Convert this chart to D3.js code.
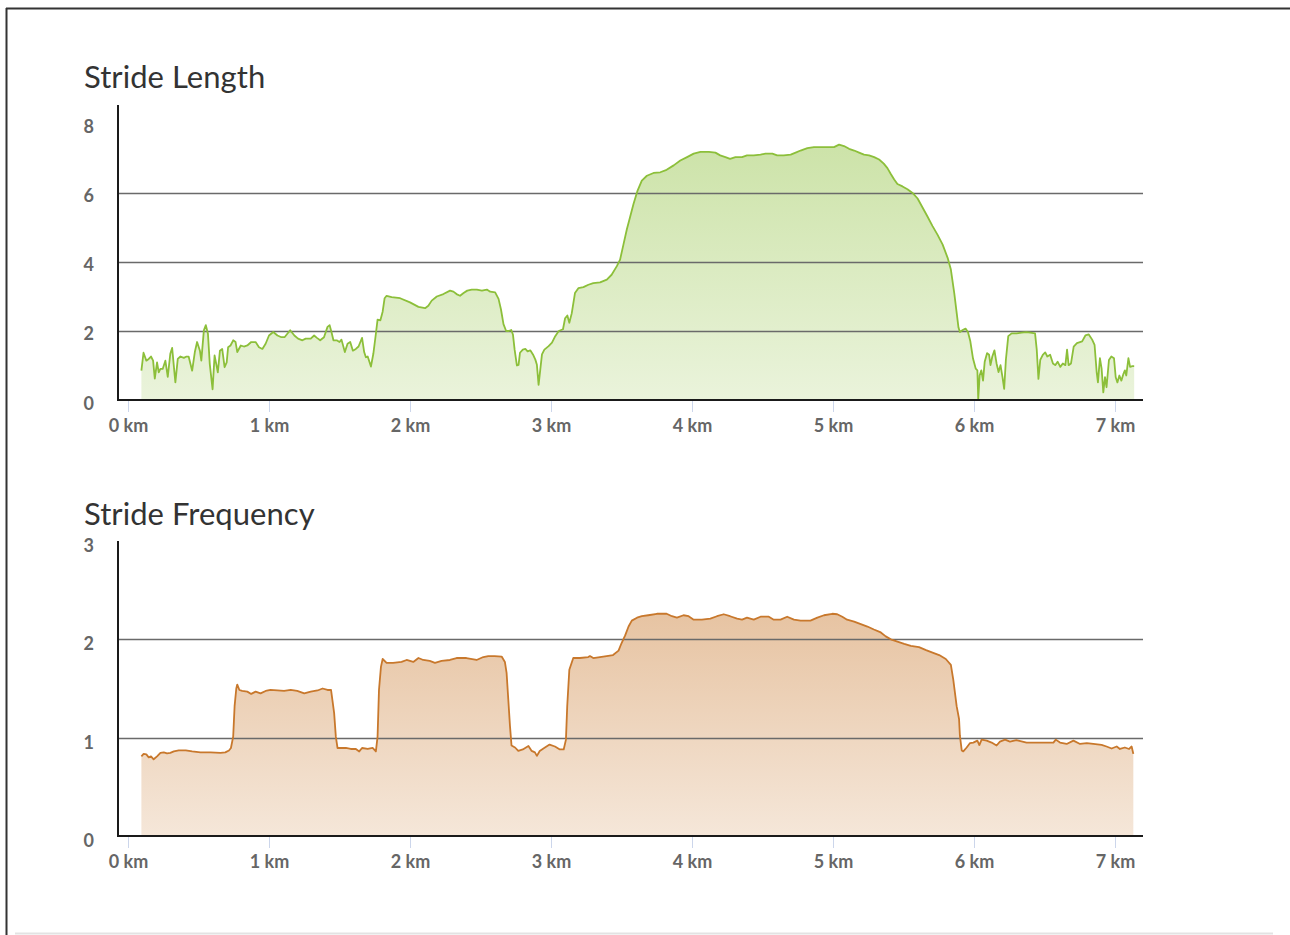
<!DOCTYPE html>
<html>
<head>
<meta charset="utf-8">
<script src="https://cdn.jsdelivr.net/npm/d3@7"></script>
<style>
  html, body { margin: 0; padding: 0; background: #fff; }
  svg { display: block; font-family: Lato, "Open Sans", sans-serif; }
</style>
</head>
<body>
<svg id="chart" width="1290" height="935"></svg>
<script>
// ---------- DATA ----------
const xTickKm = [0, 1, 2, 3, 4, 5, 6, 7];
const lengthTicks = [0, 2, 4, 6, 8];
const lengthGrid = [2, 4, 6];
const freqTicks = [0, 1, 2, 3];
const freqGrid = [1, 2];

const lengthKm = [0.095,0.11,0.13,0.147,0.163,0.178,0.19,0.206,0.218,0.23,0.246,0.265,0.282,0.30,0.313,0.336,0.353,0.372,0.396,0.415,0.43,0.455,0.474,0.49,0.51,0.52,0.538,0.552,0.567,0.58,0.60,0.614,0.626,0.637,0.652,0.668,0.685,0.70,0.71,0.727,0.746,0.763,0.775,0.80,0.822,0.846,0.874,0.905,0.929,0.953,0.976,1.0,1.03,1.06,1.088,1.11,1.15,1.18,1.206,1.237,1.26,1.296,1.32,1.34,1.363,1.39,1.415,1.43,1.443,1.457,1.48,1.50,1.514,1.538,1.557,1.576,1.595,1.616,1.635,1.66,1.675,1.687,1.70,1.723,1.74,1.758,1.77,1.79,1.806,1.82,1.834,1.87,1.93,2.0,2.06,2.107,2.13,2.154,2.19,2.237,2.284,2.308,2.33,2.355,2.38,2.406,2.438,2.474,2.51,2.545,2.569,2.604,2.628,2.645,2.663,2.682,2.70,2.718,2.73,2.742,2.758,2.77,2.78,2.80,2.818,2.834,2.853,2.872,2.889,2.90,2.912,2.924,2.936,2.953,2.983,3.007,3.03,3.055,3.085,3.10,3.116,3.13,3.147,3.17,3.194,3.23,3.265,3.30,3.348,3.396,3.43,3.467,3.49,3.514,3.538,3.56,3.585,3.614,3.644,3.68,3.727,3.775,3.82,3.87,3.917,3.965,4.012,4.06,4.12,4.166,4.20,4.237,4.27,4.308,4.355,4.39,4.438,4.486,4.52,4.57,4.604,4.65,4.70,4.735,4.77,4.818,4.865,4.912,4.96,5.007,5.043,5.078,5.114,5.15,5.185,5.22,5.256,5.292,5.327,5.36,5.386,5.41,5.434,5.457,5.493,5.528,5.564,5.60,5.635,5.67,5.706,5.74,5.777,5.813,5.836,5.86,5.875,5.89,5.90,5.92,5.94,5.957,5.974,5.993,6.012,6.024,6.03,6.04,6.052,6.064,6.076,6.093,6.107,6.117,6.13,6.145,6.16,6.174,6.188,6.202,6.214,6.226,6.243,6.267,6.302,6.338,6.37,6.40,6.433,6.445,6.457,6.47,6.488,6.505,6.52,6.54,6.56,6.576,6.593,6.612,6.63,6.648,6.66,6.671,6.688,6.707,6.73,6.767,6.79,6.814,6.838,6.855,6.87,6.879,6.893,6.905,6.917,6.929,6.94,6.957,6.974,6.993,7.005,7.017,7.031,7.045,7.06,7.07,7.08,7.095,7.107,7.124,7.136];
const lengthVal = [0.85,1.37,1.14,1.19,1.26,1.14,0.62,1.09,0.80,0.90,0.90,1.14,0.67,1.34,1.51,0.51,1.19,1.26,1.22,1.26,1.26,0.85,1.39,1.68,1.43,1.14,2.02,2.17,1.92,1.04,0.31,1.29,1.04,0.80,1.43,1.48,0.95,1.09,1.53,1.58,1.73,1.68,1.39,1.58,1.55,1.58,1.68,1.68,1.53,1.48,1.63,1.87,1.97,1.87,1.82,1.82,2.02,1.87,1.78,1.73,1.78,1.78,1.87,1.80,1.73,1.82,2.12,2.17,1.97,1.73,1.73,1.68,1.75,1.39,1.63,1.68,1.43,1.48,1.55,1.80,1.39,1.24,1.26,0.97,1.34,1.92,2.33,2.31,2.56,2.95,3.02,2.98,2.95,2.83,2.70,2.66,2.73,2.88,3.0,3.07,3.17,3.14,3.07,3.02,3.10,3.17,3.20,3.20,3.17,3.20,3.14,3.12,2.93,2.63,2.20,2.0,2.0,2.03,1.9,1.46,1.0,1.02,1.37,1.46,1.48,1.41,1.44,1.32,1.17,1.02,0.44,0.88,1.32,1.46,1.56,1.66,1.85,2.0,2.05,2.37,2.45,2.24,2.51,3.10,3.24,3.27,3.34,3.39,3.41,3.49,3.63,3.88,4.07,4.51,4.95,5.29,5.68,6.07,6.36,6.50,6.58,6.60,6.67,6.80,6.94,7.04,7.14,7.19,7.19,7.17,7.09,7.04,6.99,7.04,7.04,7.09,7.09,7.11,7.14,7.14,7.09,7.09,7.11,7.17,7.23,7.30,7.33,7.33,7.33,7.33,7.40,7.36,7.28,7.23,7.17,7.11,7.09,7.04,6.97,6.85,6.72,6.55,6.39,6.26,6.19,6.11,6.0,5.84,5.58,5.32,5.04,4.80,4.51,4.12,3.78,3.10,2.60,2.10,1.97,2.03,2.07,1.97,1.70,1.20,0.91,0.86,0.02,0.71,0.86,0.56,1.11,1.36,1.31,1.01,1.26,1.44,1.06,0.81,1.01,0.66,0.32,1.16,1.85,1.93,1.93,1.95,1.97,1.95,1.93,1.46,0.61,1.16,1.31,1.38,1.26,1.31,1.06,1.01,1.11,0.96,1.06,1.01,1.46,1.01,1.06,1.55,1.65,1.70,1.87,1.90,1.75,1.60,0.81,0.51,1.21,0.91,0.22,0.66,0.37,1.16,1.26,1.21,0.66,0.51,0.71,0.56,0.76,0.86,0.71,1.21,0.96,0.98,0.98];

const freqKm = [0.095,0.111,0.13,0.147,0.163,0.182,0.206,0.23,0.254,0.277,0.30,0.325,0.36,0.41,0.455,0.514,0.585,0.656,0.69,0.716,0.73,0.746,0.756,0.768,0.775,0.79,0.81,0.846,0.874,0.905,0.94,0.976,1.01,1.06,1.107,1.154,1.20,1.25,1.296,1.344,1.38,1.415,1.44,1.45,1.462,1.474,1.486,1.51,1.545,1.58,1.616,1.64,1.66,1.70,1.735,1.758,1.77,1.78,1.794,1.806,1.834,1.88,1.94,1.976,2.023,2.06,2.094,2.14,2.177,2.224,2.283,2.33,2.40,2.472,2.52,2.555,2.60,2.65,2.673,2.685,2.697,2.709,2.72,2.745,2.768,2.80,2.84,2.863,2.886,2.90,2.92,2.957,2.99,3.028,3.063,3.09,3.106,3.115,3.13,3.158,3.205,3.264,3.276,3.30,3.347,3.394,3.44,3.479,3.50,3.526,3.55,3.573,3.61,3.644,3.69,3.751,3.82,3.858,3.893,3.94,3.976,4.012,4.07,4.13,4.177,4.225,4.27,4.32,4.355,4.39,4.438,4.486,4.545,4.58,4.628,4.675,4.723,4.77,4.84,4.889,4.936,4.995,5.03,5.066,5.10,5.15,5.197,5.244,5.29,5.339,5.374,5.41,5.457,5.505,5.552,5.61,5.66,5.706,5.753,5.80,5.836,5.853,5.877,5.894,5.90,5.913,5.924,5.948,5.972,5.995,6.024,6.038,6.054,6.09,6.125,6.16,6.184,6.22,6.255,6.30,6.373,6.468,6.563,6.58,6.61,6.657,6.705,6.752,6.80,6.846,6.905,6.94,6.976,7.012,7.035,7.07,7.10,7.118,7.13];
const freqVal = [0.81,0.835,0.83,0.80,0.81,0.78,0.81,0.845,0.85,0.84,0.845,0.86,0.87,0.87,0.86,0.85,0.85,0.845,0.85,0.87,0.895,1.01,1.32,1.50,1.54,1.485,1.475,1.468,1.445,1.468,1.45,1.475,1.485,1.48,1.475,1.485,1.475,1.45,1.468,1.48,1.50,1.485,1.485,1.38,1.25,1.01,0.895,0.895,0.895,0.885,0.885,0.86,0.895,0.885,0.895,0.86,1.01,1.485,1.72,1.80,1.76,1.76,1.77,1.79,1.77,1.81,1.79,1.78,1.76,1.78,1.79,1.81,1.81,1.79,1.82,1.83,1.83,1.825,1.77,1.66,1.39,1.12,0.92,0.90,0.865,0.88,0.915,0.865,0.85,0.815,0.865,0.90,0.93,0.91,0.88,0.88,0.98,1.32,1.69,1.81,1.81,1.82,1.83,1.81,1.82,1.83,1.84,1.885,1.96,2.04,2.13,2.19,2.22,2.235,2.245,2.26,2.26,2.235,2.22,2.245,2.235,2.20,2.20,2.21,2.235,2.255,2.235,2.21,2.20,2.22,2.20,2.23,2.23,2.20,2.20,2.23,2.20,2.19,2.19,2.22,2.245,2.26,2.255,2.23,2.20,2.18,2.155,2.13,2.10,2.07,2.03,2.0,1.976,1.953,1.933,1.92,1.89,1.865,1.84,1.80,1.74,1.59,1.32,1.19,1.02,0.87,0.86,0.90,0.945,0.95,0.97,0.925,0.98,0.97,0.95,0.92,0.96,0.98,0.96,0.976,0.95,0.95,0.95,0.98,0.95,0.936,0.97,0.936,0.945,0.936,0.926,0.91,0.89,0.91,0.885,0.90,0.885,0.91,0.835];

// ---------- DRAW ----------
const svg = d3.select("#chart");
const defs = svg.append("defs");

// outer frame
svg.append("line").attr("x1", 6).attr("x2", 1290).attr("y1", 8.5).attr("y2", 8.5)
  .attr("stroke", "#333").attr("stroke-width", 2);
svg.append("line").attr("x1", 6.5).attr("x2", 6.5).attr("y1", 8).attr("y2", 935)
  .attr("stroke", "#333").attr("stroke-width", 2);
svg.append("line").attr("x1", 15).attr("x2", 1273).attr("y1", 933.5).attr("y2", 933.5)
  .attr("stroke", "#e3e3e3").attr("stroke-width", 2);

const x = d3.scaleLinear().domain([0, 7]).range([128, 1115]);
const plotLeft = 118, plotRight = 1143;

function drawChart(cfg) {
  const y = d3.scaleLinear().domain([0, cfg.yMax]).range([cfg.bottom, cfg.top]);
  const g = svg.append("g");

  // title
  g.append("text").attr("x", 84).attr("y", cfg.titleY)
    .attr("font-size", 31).attr("letter-spacing", 0.05).attr("fill", "#333").text(cfg.title);

  // gradient
  const gid = "grad-" + cfg.id;
  const grad = defs.append("linearGradient").attr("id", gid)
    .attr("x1", 0).attr("y1", 0).attr("x2", 0).attr("y2", 1);
  grad.append("stop").attr("offset", "0%").attr("stop-color", cfg.color).attr("stop-opacity", 0.44);
  grad.append("stop").attr("offset", "100%").attr("stop-color", cfg.color).attr("stop-opacity", 0.18);

  const pts = cfg.km.map((k, i) => [k, cfg.vals[i]]);

  // area
  g.append("path").datum(pts)
    .attr("fill", `url(#${gid})`)
    .attr("d", d3.area().x(d => x(d[0])).y0(y(0)).y1(d => y(d[1])));

  // grid lines
  g.selectAll(".grid").data(cfg.grid).enter().append("line")
    .attr("x1", plotLeft).attr("x2", plotRight)
    .attr("y1", d => Math.round(y(d)) + 0.5).attr("y2", d => Math.round(y(d)) + 0.5)
    .attr("stroke", "#6a6a6a").attr("stroke-width", 1.6);

  // line
  g.append("path").datum(pts)
    .attr("fill", "none").attr("stroke", cfg.color).attr("stroke-width", 1.8)
    .attr("stroke-linejoin", "round")
    .attr("d", d3.line().x(d => x(d[0])).y(d => y(d[1])));

  // x axis
  const xa = g.append("g").attr("transform", `translate(0,${cfg.bottom})`)
    .call(d3.axisBottom(x).tickValues(xTickKm).tickFormat(d => d + " km").tickSize(12).tickPadding(7));
  xa.select(".domain").remove();
  xa.selectAll(".tick line").attr("stroke", "#ccd6eb").attr("stroke-width", 1);
  xa.selectAll(".tick text").attr("font-family", "Lato, sans-serif").attr("font-size", 18)
    .attr("font-weight", "bold").attr("fill", "#666");

  // y axis
  const ya = g.append("g").attr("transform", `translate(${plotLeft},0)`)
    .call(d3.axisLeft(y).tickValues(cfg.ticks).tickSize(0).tickPadding(24).tickFormat(d3.format("d")));
  ya.select(".domain").remove();
  ya.selectAll(".tick text").attr("font-family", "Lato, sans-serif").attr("font-size", 18)
    .attr("font-weight", "bold").attr("fill", "#666").attr("dy", cfg.labelDy);

  // axis lines
  g.append("line").attr("x1", plotLeft).attr("x2", plotLeft).attr("y1", cfg.top).attr("y2", cfg.bottom + 1)
    .attr("stroke", "#1a1a1a").attr("stroke-width", 2);
  g.append("line").attr("x1", plotLeft).attr("x2", plotRight).attr("y1", cfg.bottom).attr("y2", cfg.bottom)
    .attr("stroke", "#1a1a1a").attr("stroke-width", 2);
}

drawChart({
  id: "len", title: "Stride Length", titleY: 88,
  top: 105, bottom: 400, yMax: 8.55, labelDy: "0.5em",
  ticks: lengthTicks, grid: lengthGrid,
  km: lengthKm, vals: lengthVal, color: "#8cbf3a"
});

drawChart({
  id: "freq", title: "Stride Frequency", titleY: 525,
  top: 541, bottom: 836, yMax: 3, labelDy: "0.58em",
  ticks: freqTicks, grid: freqGrid,
  km: freqKm, vals: freqVal, color: "#c8782c"
});
</script>
</body>
</html>
